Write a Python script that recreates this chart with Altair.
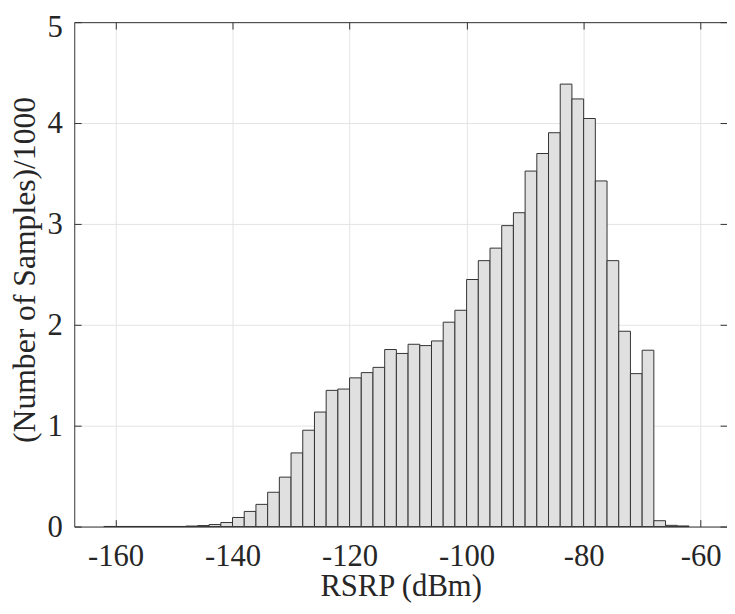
import altair as alt
import pandas as pd

# Histogram bins (left edges, dBm), width 2 dBm
bin_left = [-162, -160, -158, -156, -154, -152, -150,
            -148, -146, -144, -142, -140, -138, -136, -134, -132, -130,
            -128, -126, -124, -122, -120, -118, -116, -114, -112, -110,
            -108, -106, -104, -102, -100, -98, -96, -94, -92, -90,
            -88, -86, -84, -82, -80, -78, -76, -74, -72, -70,
            -68, -66, -64]
bin_right = [-160, -158, -156, -154, -152, -150, -148,
             -146, -144, -142, -140, -138, -136, -134, -132, -130, -128,
             -126, -124, -122, -120, -118, -116, -114, -112, -110, -108,
             -106, -104, -102, -100, -98, -96, -94, -92, -90, -88,
             -86, -84, -82, -80, -78, -76, -74, -72, -70, -68,
             -66, -64, -62]
# (Number of samples)/1000
counts = [0.001, 0.001, 0.001, 0.001, 0.001, 0.001, 0.001,
          0.005, 0.01, 0.02, 0.04, 0.09, 0.15, 0.22, 0.34, 0.49, 0.73,
          0.955, 1.135, 1.35, 1.363, 1.474, 1.526, 1.578, 1.755, 1.716, 1.807,
          1.794, 1.84, 2.026, 2.144, 2.449, 2.636, 2.76, 2.983, 3.111, 3.524,
          3.698, 3.904, 4.386, 4.239, 4.045, 3.426, 2.636, 1.936, 1.516, 1.748,
          0.058, 0.012, 0.006]

x_ticks = [-160, -140, -120, -100, -80, -60]
y_ticks = [0, 1, 2, 3, 4, 5]

df = pd.DataFrame({"lo": bin_left, "hi": bin_right, "n": counts})

W, H = 660, 510
FONT = "Liberation Serif"
AX = "#333333"

xscale = alt.Scale(domain=[-167.05, -55.5], nice=False, zero=False)
yscale = alt.Scale(domain=[0, 5], nice=False, zero=True)

tick_axis_common = dict(labels=False, ticks=True, tickSize=7, tickColor=AX,
                        tickWidth=1, grid=False, title=None, domainColor=AX,
                        domainWidth=1)

bars = alt.Chart(df).mark_rect(fill="#e0e0e0", stroke="#333333",
                               strokeWidth=1).encode(
    x=alt.X("lo:Q", scale=xscale,
            axis=alt.Axis(orient="bottom", values=x_ticks, ticks=False, tickSize=0,
                          labelExpr="toString(datum.value)",
                          labelPadding=15, labelFont=FONT, labelFontSize=31,
                          labelColor="#262626", grid=True, gridColor="#e4e4e4",
                          gridWidth=1, domain=True, domainColor=AX, domainWidth=1,
                          title="RSRP (dBm)", titleFont=FONT, titleFontSize=31,
                          titleFontWeight="normal", titleColor="#262626",
                          titleX=W / 2, titleY=70, titleBaseline="alphabetic",
                          titleAlign="center")),
    x2="hi:Q",
    y=alt.Y("n:Q", scale=yscale,
            axis=alt.Axis(orient="left", values=y_ticks, ticks=False, tickSize=0,
                          labelExpr="toString(datum.value)",
                          labelOffset={"condition": {"test": "datum.value == 5",
                                                     "value": 6},
                                       "value": 1},
                          labelPadding=12, labelFont=FONT, labelFontSize=31,
                          labelColor="#262626", grid=True, gridColor="#e4e4e4",
                          gridWidth=1, domain=True, domainColor=AX, domainWidth=1,
                          title="(Number of Samples)/1000", titleFont=FONT,
                          titleFontSize=32, titleFontWeight="normal",
                          titleColor="#262626", titleAngle=270, titleX=-40,
                          titleY=250, titleBaseline="alphabetic",
                          titleAlign="center")),
    y2=alt.datum(0),
)

# inward ticks on bottom and left edges
ticks_a = alt.Chart(df).mark_rect(opacity=0).encode(
    x=alt.X("lo:Q", scale=xscale,
            axis=alt.Axis(orient="top", offset=-H, values=x_ticks,
                          domain=False, **tick_axis_common)),
    x2="hi:Q",
    y=alt.Y("n:Q", scale=yscale,
            axis=alt.Axis(orient="right", offset=-W, values=y_ticks,
                          domain=False, **tick_axis_common)),
    y2=alt.datum(0),
)

# inward ticks + border on top and right edges
ticks_b = alt.Chart(df).mark_rect(opacity=0).encode(
    x=alt.X("lo:Q", scale=xscale,
            axis=alt.Axis(orient="bottom", offset=-H, values=x_ticks,
                          domain=True, **tick_axis_common)),
    x2="hi:Q",
    y=alt.Y("n:Q", scale=yscale,
            axis=alt.Axis(orient="left", offset=-W, values=y_ticks,
                          domain=True, **tick_axis_common)),
    y2=alt.datum(0),
)

chart = alt.layer(bars, ticks_a, ticks_b).resolve_axis(
    x="independent", y="independent"
).properties(
    width=W, height=H,
    padding={"left": 67, "top": 11, "right": 0, "bottom": 77},
    autosize=alt.AutoSizeParams(type="none"),
    background="white",
).configure_view(stroke=None)

chart.save("out.html", embed_options={"renderer": "svg", "actions": False})
